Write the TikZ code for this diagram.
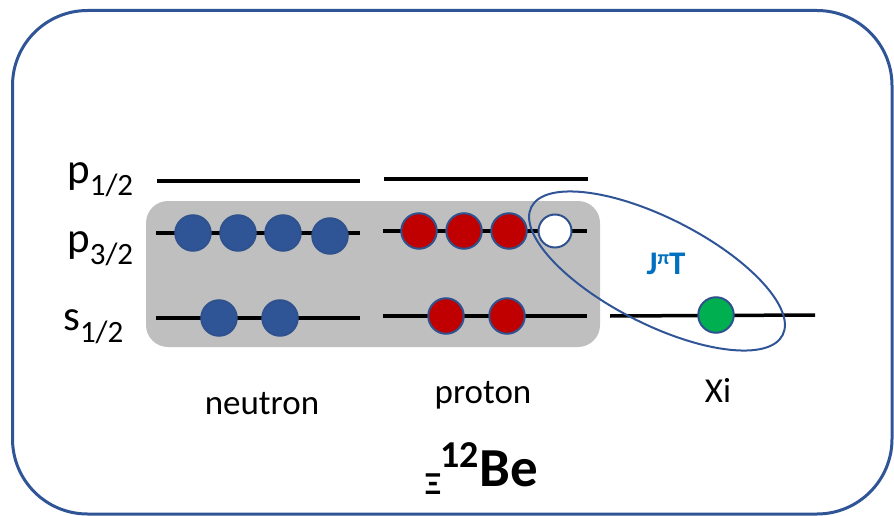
\documentclass[tikz,border=0pt]{standalone}
\usepackage{fontspec}
\setmainfont{Carlito}
\definecolor{frame}{HTML}{2F5597}
\definecolor{ball}{HTML}{2F528F}
\definecolor{nfill}{HTML}{2F5597}
\definecolor{pfill}{HTML}{C00000}
\definecolor{gfill}{HTML}{00B050}
\definecolor{boxgray}{HTML}{BFBFBF}
\definecolor{jblue}{HTML}{0070C0}
\tikzset{
  level/.style={line width=3.5pt, black},
  ballnode/.style={circle, draw=ball, line width=2pt, minimum size=35.5pt, inner sep=0pt},
  neutronball/.style={ballnode, fill=nfill},
  protonball/.style={ballnode, fill=pfill},
  holeball/.style={ballnode, fill=white, minimum size=33pt},
  xiball/.style={ballnode, fill=gfill},
  lbl/.style={inner sep=0pt, anchor=base west, font=\fontsize{43}{43}\selectfont},
  captxt/.style={inner sep=0pt, anchor=base, font=\fontsize{35}{35}\selectfont},
}
\newcommand{\subsc}[1]{\raisebox{-12pt}{\fontsize{31}{31}\selectfont #1}}
\begin{document}
\begin{tikzpicture}[x=1pt, y=-1pt]
\useasboundingbox (0,0) rectangle (894,516);
% outer frame
\draw[frame, line width=3pt, rounded corners=75pt] (12.5,10.5) rectangle (892,514);
% gray core box
\fill[boxgray, rounded corners=22pt] (146,201) rectangle (600,347);
% levels
\draw[level] (157,181) -- (360,181);
\draw[level] (384,179) -- (588,179);
\draw[level] (156,233) -- (360,233);
\draw[level] (383,231) -- (587,231);
\draw[level] (156,318) -- (360,318);
\draw[level] (383,316) -- (587,316);
\draw[level] (610,316) -- (815,315);
% labels
\node[lbl] (lp1) at (67,183) {p\subsc{1/2}};
\node[lbl] (lp3) at (67,252) {p\subsc{3/2}};
\node[lbl] (ls1) at (63,330) {s\subsc{1/2}};
% neutrons
\node[neutronball] (n1) at (193,233) {};
\node[neutronball] (n2) at (238,233) {};
\node[neutronball] (n3) at (283,233) {};
\node[neutronball] (n4) at (330,236) {};
\node[neutronball] (n5) at (219,318) {};
\node[neutronball] (n6) at (280,318) {};
% protons
\node[protonball] (p1) at (419,231) {};
\node[protonball] (p2) at (464,231) {};
\node[protonball] (p3) at (509,231) {};
\node[holeball] (h1) at (555,231) {};
\node[protonball] (p4) at (446,316) {};
\node[protonball] (p5) at (507,316) {};
% xi
\node[xiball] (x1) at (716,315) {};
% ellipse
\draw[frame, line width=2pt] (657,271) ellipse [x radius=141, y radius=53, rotate=-27];
\node[inner sep=0pt, anchor=base, text=jblue, font=\fontsize{33}{33}\selectfont\bfseries] (jpt) at (666,274) {J\raisebox{10pt}{\fontsize{20}{20}\selectfont π}T};
% captions
\node[captxt] (cn) at (262,414) {neutron};
\node[captxt] (cp) at (483,403) {proton};
\node[captxt] (cx) at (718,402) {Xi};
% title
\node[inner sep=0pt, anchor=base west, font=\fontsize{32}{32}\selectfont\bfseries] (txi) at (425,494) {Ξ};
\node[inner sep=0pt, anchor=base west, font=\fontsize{38}{38}\selectfont\bfseries] (t12) at (440,467) {12};
\node[inner sep=0pt, anchor=base west, font=\fontsize{55}{55}\selectfont\bfseries] (tbe) at (479,486) {Be};
\end{tikzpicture}
\end{document}
